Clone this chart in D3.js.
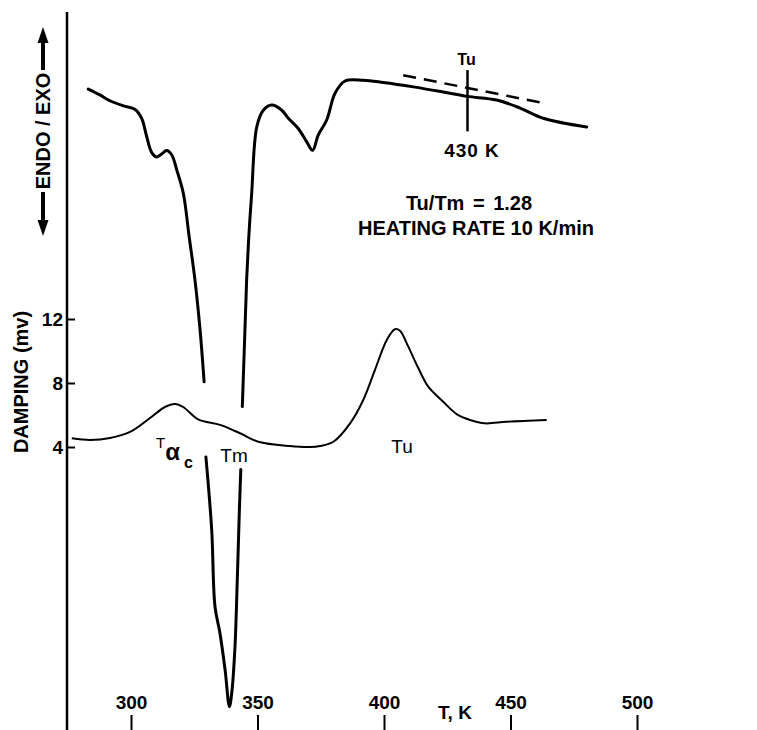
<!DOCTYPE html>
<html>
<head>
<meta charset="utf-8">
<script src="https://cdn.jsdelivr.net/npm/d3@7"></script>
<style>
  body { margin: 0; background: #fff; }
  text { font-family: "Liberation Sans", Arial, Helvetica, sans-serif; fill: #000; }
</style>
</head>
<body>
<svg id="chart" width="757" height="730"></svg>
<script>
// temperature axis (K)
const tempTicks = [300, 350, 400, 450, 500];
// damping axis (mv)
const dampingTicks = [4, 8, 12];

// damping curve
const dampingT = [276.6, 283.8, 291.7, 299.6, 307.5, 313.4, 317.4, 320.6, 326.6, 335.2, 343.1, 350.3,
  362.8, 370.8, 374.7, 380.0, 386.6, 391.8, 396.4, 401.1, 404.3, 406.3, 409.6, 413.6, 417.5,
  423.4, 428.7, 434.0, 439.9, 448.5, 464.3];
const dampingV = [4.54, 4.44, 4.56, 4.94, 5.81, 6.5, 6.69, 6.5, 5.73, 5.38, 4.86, 4.33,
  4.06, 4.0, 4.06, 4.33, 5.48, 6.94, 8.81, 10.69, 11.36, 11.27, 10.27, 8.92, 7.77,
  6.83, 6.06, 5.69, 5.48, 5.58, 5.69];

// DSC trace (arbitrary units), null = break in the trace
const dscT = [283.1, 287.7, 291.7, 297.0, 301.6, 304.2, 306.2, 308.2, 310.2, 312.1, 314.1, 316.1,
  318.1, 320.7, 322.9, 325.3, 327.3, 328.9, null,
  329.6, 331.9, 333.2, 335.2, 337.2, 338.9, 339.8, 341.1, 342.0, 342.8, 343.4, null,
  344.0, 344.9, 345.7, 346.6, 347.7, 349.7, 352.3, 355.6, 359.6, 362.2, 366.1, 369.4, 371.8,
  374.0, 377.4, 380.6, 384.6, 391.8, 399.7, 411.6, 423.4, 432.9, 444.5, 453.8, 463.0, 480.1];
const dscV = [87.8, 87.0, 86.2, 85.5, 85.0, 83.8, 81.3, 79.1, 78.5, 78.9, 79.4, 78.8,
  76.7, 73.5, 67.8, 61.6, 54.8, 47.7, null,
  37.4, 27.4, 16.9, 13.2, 8.2, 3.2, 5.0, 11.4, 20.5, 29.7, 35.7, null,
  44.3, 53.4, 61.6, 67.8, 73.5, 82.6, 84.9, 85.6, 84.9, 83.8, 82.4, 80.6, 79.4,
  81.5, 83.6, 87.2, 88.9, 89.0, 88.7, 88.1, 87.4, 86.8, 86.3, 85.2, 83.8, 82.6];

// tangent construction for Tu
const tangentT = [407.6, 464.3];
const tangentV = [89.7, 85.8];
const tuMarkT = 433;
const tuMarkV = [90.4, 82.0];

const svg = d3.select('#chart');
const W = 757, H = 730;
const axisX = 67;

const x = d3.scaleLinear().domain([300, 500]).range([131, 637]);
const yDamp = d3.scaleLinear().domain([0, 12]).range([511, 319]);
const yDsc = d3.scaleLinear().domain([0, 100]).range([H, 0]);

// left axis line
svg.append('line')
  .attr('x1', axisX).attr('x2', axisX)
  .attr('y1', 12).attr('y2', H)
  .attr('stroke', '#000').attr('stroke-width', 2.5);

// damping ticks
const yAxis = svg.append('g')
  .attr('transform', `translate(${axisX},0)`)
  .call(d3.axisLeft(yDamp).tickValues(dampingTicks).tickSizeInner(-8).tickSizeOuter(0).tickPadding(4));
yAxis.select('.domain').remove();
yAxis.selectAll('line').attr('stroke-width', 2);
yAxis.selectAll('text')
  .style('font-size', '19px').style('font-weight', 'bold')
  .style('font-family', '"Liberation Sans", Arial, sans-serif');

// temperature ticks (no axis line)
const xAxis = svg.append('g')
  .attr('transform', `translate(0,${H})`)
  .call(d3.axisTop(x).tickValues(tempTicks).tickSize(15).tickPadding(6));
xAxis.select('.domain').remove();
xAxis.selectAll('line').attr('stroke-width', 2);
xAxis.selectAll('text')
  .style('font-size', '19px').style('font-weight', 'bold')
  .style('font-family', '"Liberation Sans", Arial, sans-serif');

// axis labels
svg.append('text')
  .attr('transform', 'translate(28,382) rotate(-90)')
  .attr('text-anchor', 'middle')
  .style('font-size', '20px').style('font-weight', 'bold')
  .text('DAMPING (mv)');

svg.append('text')
  .attr('x', 455).attr('y', 719)
  .attr('text-anchor', 'middle')
  .style('font-size', '19px').style('font-weight', 'bold')
  .text('T, K');

// ENDO / EXO double arrow
const ax = 43;
svg.append('text')
  .attr('transform', `translate(${ax + 7},131) rotate(-90)`)
  .attr('text-anchor', 'middle')
  .style('font-size', '20px').style('font-weight', 'bold')
  .text('ENDO / EXO');
[[40, 70], [192, 222]].forEach(([a, b]) => {
  svg.append('line')
    .attr('x1', ax).attr('x2', ax).attr('y1', a).attr('y2', b)
    .attr('stroke', '#000').attr('stroke-width', 4);
});
svg.append('path').attr('d', `M${ax},27 L${ax - 5.5},43 L${ax + 5.5},43 Z`).attr('fill', '#000');
svg.append('path').attr('d', `M${ax},236 L${ax - 5.5},220 L${ax + 5.5},220 Z`).attr('fill', '#000');

// curves
const dscLine = d3.line()
  .defined((d) => d[0] !== null)
  .x((d) => x(d[0]))
  .y((d) => yDsc(d[1]))
  .curve(d3.curveCatmullRom.alpha(0.5));
svg.append('path')
  .datum(dscT.map((t, i) => [t, dscV[i]]))
  .attr('fill', 'none').attr('stroke', '#000')
  .attr('stroke-width', 3).attr('stroke-linejoin', 'round').attr('stroke-linecap', 'round')
  .attr('d', dscLine);

const dampLine = d3.line()
  .x((d) => x(d[0]))
  .y((d) => yDamp(d[1]))
  .curve(d3.curveCatmullRom.alpha(0.5));
svg.append('path')
  .datum(dampingT.map((t, i) => [t, dampingV[i]]))
  .attr('fill', 'none').attr('stroke', '#000')
  .attr('stroke-width', 2).attr('stroke-linejoin', 'round')
  .attr('d', dampLine);

// Tu construction
svg.append('line')
  .attr('x1', x(tangentT[0])).attr('y1', yDsc(tangentV[0]))
  .attr('x2', x(tangentT[1])).attr('y2', yDsc(tangentV[1]))
  .attr('stroke', '#000').attr('stroke-width', 2.5).attr('stroke-dasharray', '13,8');
svg.append('line')
  .attr('x1', x(tuMarkT)).attr('x2', x(tuMarkT))
  .attr('y1', yDsc(tuMarkV[0])).attr('y2', yDsc(tuMarkV[1]))
  .attr('stroke', '#000').attr('stroke-width', 2.5);
svg.append('text')
  .attr('x', x(tuMarkT) - 1).attr('y', 65)
  .attr('text-anchor', 'middle')
  .style('font-size', '16px').style('font-weight', 'bold')
  .text('Tu');
svg.append('text')
  .attr('x', 472).attr('y', 157)
  .attr('text-anchor', 'middle')
  .style('font-size', '19px').style('font-weight', 'bold')
  .style('letter-spacing', '1px')
  .text('430 K');

svg.append('text')
  .attr('x', 469).attr('y', 210)
  .attr('text-anchor', 'middle')
  .style('font-size', '20px').style('font-weight', 'bold')
  .style('word-spacing', '3px')
  .text('Tu/Tm = 1.28');
svg.append('text')
  .attr('x', 476).attr('y', 235)
  .attr('text-anchor', 'middle')
  .style('font-size', '20px').style('font-weight', 'bold')
  .text('HEATING RATE 10 K/min');

// transition labels
const tac = svg.append('text').attr('x', 156).attr('y', 448);
tac.append('tspan').style('font-size', '15px').text('T');
tac.append('tspan').attr('dy', 12).style('font-size', '24px').style('font-weight', 'bold').text('α');
tac.append('tspan').attr('dx', 4).attr('dy', 8).style('font-size', '16px').style('font-weight', 'bold').text('c');

svg.append('text')
  .attr('x', 234).attr('y', 462)
  .attr('text-anchor', 'middle')
  .style('font-size', '19px')
  .text('Tm');
svg.append('text')
  .attr('x', 402).attr('y', 453)
  .attr('text-anchor', 'middle')
  .style('font-size', '19px')
  .text('Tu');
</script>
</body>
</html>
